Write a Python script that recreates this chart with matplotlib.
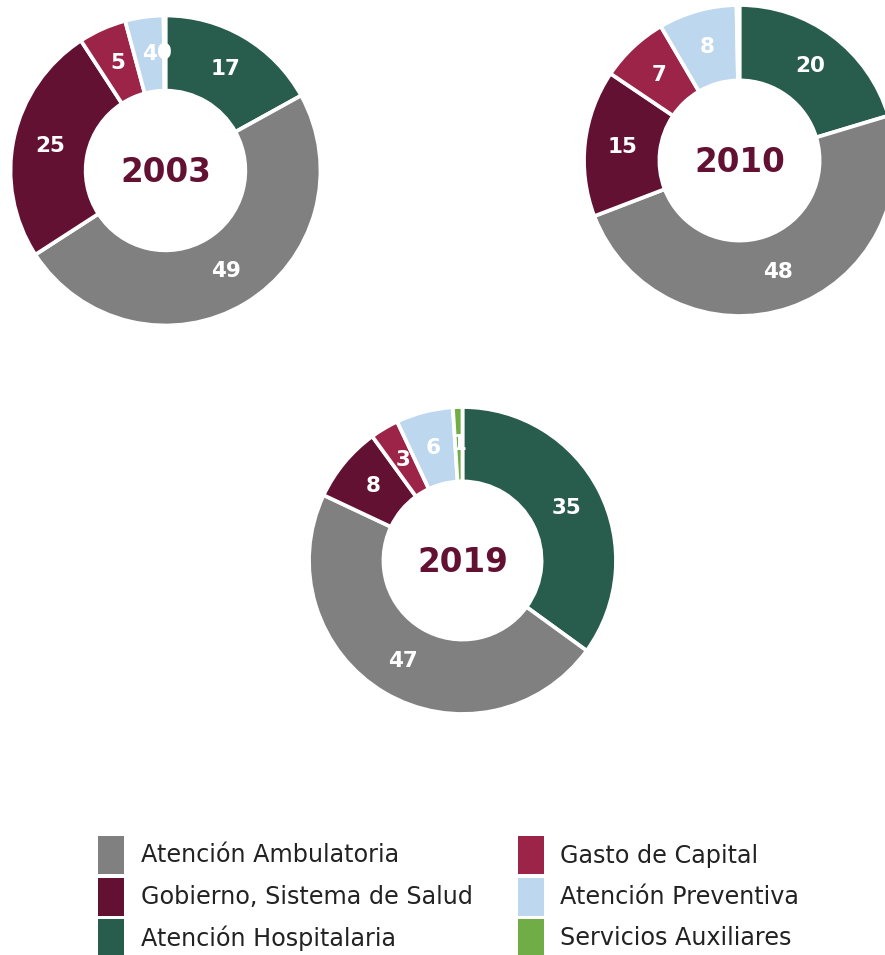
import matplotlib
matplotlib.use("Agg")
import matplotlib.pyplot as plt
from matplotlib.patches import Rectangle
import numpy as np

# ---------------- data ----------------
categories = ["Atención Ambulatoria", "Gobierno, Sistema de Salud", "Atención Hospitalaria",
              "Gasto de Capital", "Atención Preventiva", "Servicios Auxiliares"]
colors = ["#808080", "#621132", "#285C4D", "#9D2449", "#BDD7EE", "#70AD47"]

years = ["2003", "2010", "2019"]
# values in legend order: Ambulatoria, Gobierno, Hospitalaria, Capital, Preventiva, Auxiliares
values_2003 = [49, 25, 17, 5, 4, 0.2]
values_2010 = [48, 15, 20, 7, 8, 0.3]
values_2019 = [47, 8, 35, 3, 6, 1]
labels_2003 = ["49", "25", "17", "5", "4", "0"]
labels_2010 = ["48", "15", "20", "7", "8", ""]
labels_2019 = ["47", "8", "35", "3", "6", "1"]

# clockwise drawing order starting at 12 o'clock
draw_order = [2, 0, 1, 3, 4, 5]

# ---------------- figure ----------------
W, H = 885, 955
fig = plt.figure(figsize=(W / 100, H / 100), dpi=100)
ax = fig.add_axes([0, 0, 1, 1])

layout = [  # (center x px, center y px, radius px)
    (165.5, 170.5, 155),
    (739.5, 160.5, 155.5),
    (462.5, 560.5, 153.5),
]
all_values = [values_2003, values_2010, values_2019]
all_labels = [labels_2003, labels_2010, labels_2019]

hole = 0.515
for yr, vals, labs, (cx, cy, r) in zip(years, all_values, all_labels, layout):
    v = [vals[i] for i in draw_order]
    c = [colors[i] for i in draw_order]
    l = [labs[i] for i in draw_order]
    center = (cx, H - cy)
    wedges, _ = ax.pie(v, colors=c, startangle=90, counterclock=False,
                       radius=r, center=center,
                       wedgeprops=dict(width=r * (1 - hole), edgecolor="white", linewidth=2.7))
    rl = r * (1 + hole) / 2
    for w, txt in zip(wedges, l):
        if not txt:
            continue
        ang = np.deg2rad((w.theta1 + w.theta2) / 2)
        ax.text(center[0] + rl * np.cos(ang), center[1] + rl * np.sin(ang), txt,
                ha="center", va="center", color="white", fontsize=15.5,
                fontweight="bold", family="DejaVu Sans")
    ax.text(center[0], center[1] - 2, yr, ha="center", va="center", color="#621132",
            fontsize=23.5, fontweight="bold", family="DejaVu Sans")

# ---------------- legend ----------------
leg_cols = [(98, 141), (518, 560)]
leg_rows = [855.5, 897, 938]
for idx, (name, col) in enumerate(zip(categories, colors)):
    cpos = leg_cols[idx // 3]
    ry = leg_rows[idx % 3]
    ax.add_patch(Rectangle((cpos[0], H - ry - 19), 26, 38, facecolor=col, edgecolor="none"))
    ax.text(cpos[1], H - ry, name, ha="left", va="center", color="#222222",
            fontsize=17.2, family="DejaVu Sans")

ax.set_xlim(0, W)
ax.set_ylim(0, H)
ax.set_aspect("equal")
ax.axis("off")

fig.savefig("out.png", dpi=100, facecolor="white")
